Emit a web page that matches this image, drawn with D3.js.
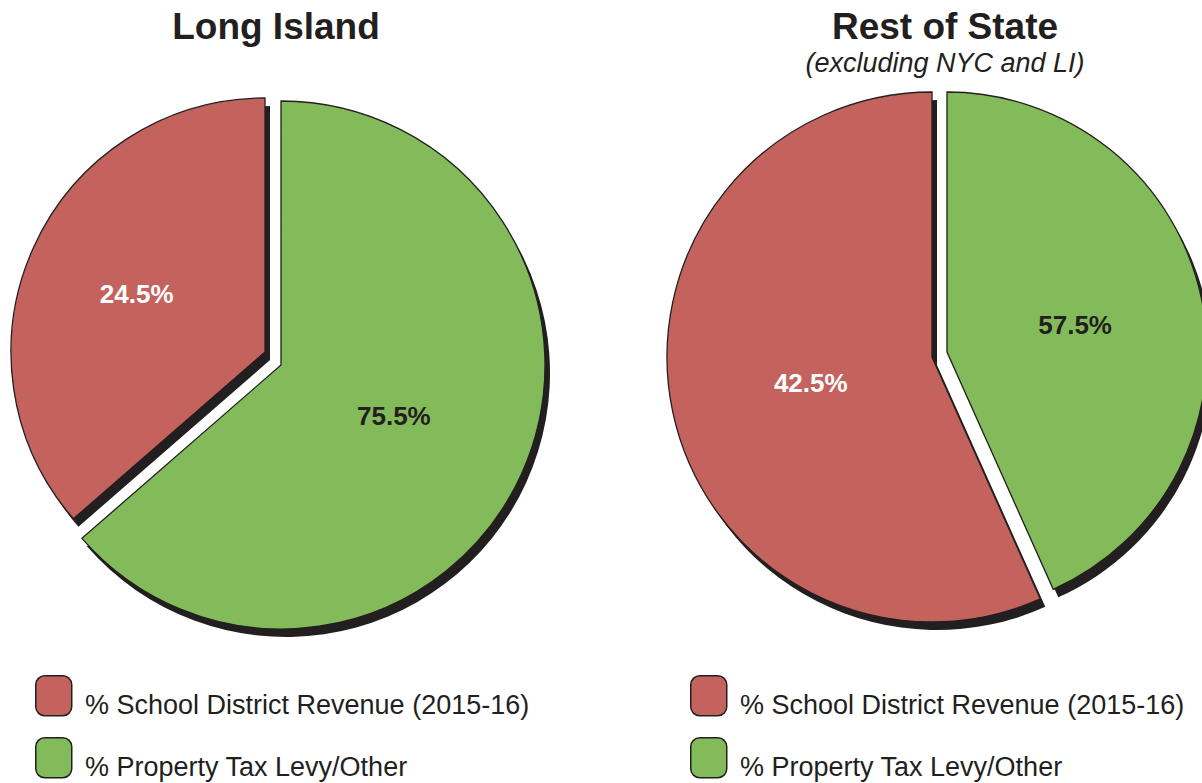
<!DOCTYPE html>
<html lang="en">
<head>
<meta charset="UTF-8">
<script src="https://d3js.org/d3.v7.min.js"></script>
<style>
  body { margin: 0; background: #fff; font-family: 'Liberation Sans', Arial, sans-serif; }
  .title { font-size: 37px; font-weight: bold; fill: #231f20; }
  .subtitle { font-size: 27px; font-style: italic; fill: #231f20; }
  .pct { font-size: 26px; font-weight: bold; }
  .legend text { font-size: 27px; fill: #231f20; }
</style>
</head>
<body>
<script>
// categories (legend order)
const categories = ["% School District Revenue (2015-16)", "% Property Tax Levy/Other"];
const colors = ["#c4635e", "#83bb5a"];
const labelColors = ["#ffffff", "#231f20"];

const regions = ["Long Island", "Rest of State"];
const subtitles = ["", "(excluding NYC and LI)"];

// printed percentages
const liLabels = [24.5, 75.5];
const rosLabels = [42.5, 57.5];
// share of the circle each slice takes as drawn
const liShares = [36.4, 63.6];
const rosShares = [56.7, 43.3];

// layout per pie: centre, radius, and how each slice is pulled out
const pies = [
  { title: regions[0], sub: subtitles[0], labels: liLabels, shares: liShares,
    cx: 281, cy: 365, r: 264, titleX: 276,
    explode: [{ dx: -16, dy: -13, r: 254, lr: 141 }, { dx: 0, dy: 0, r: 264, lr: 124 }],
    legendX: 35 },
  { title: regions[1], sub: subtitles[1], labels: rosLabels, shares: rosShares,
    cx: 932, cy: 357, r: 265, titleX: 945,
    explode: [{ dx: 0, dy: 0, r: 265, lr: 124 }, { dx: 15, dy: -5, r: 260, lr: 131 }],
    legendX: 690 }
];

const svg = d3.select("body").append("svg")
  .attr("width", 1202)
  .attr("height", 783);

// green slice starts at 12 o'clock, red follows
const pie = d3.pie().sort(null).value(d => d.share);

pies.forEach(p => {
  const rows = [1, 0].map(i => ({ i, share: p.shares[i], label: p.labels[i] }));
  const arcs = pie(rows);

  const g = svg.append("g").attr("transform", `translate(${p.cx},${p.cy})`);

  const arcFor = d => d3.arc().innerRadius(0).outerRadius(p.explode[d.data.i].r);
  const labelArc = d => d3.arc().innerRadius(p.explode[d.data.i].lr).outerRadius(p.explode[d.data.i].lr);

  // drop shadows
  g.selectAll(".shadow")
    .data(arcs)
    .enter().append("path")
    .attr("class", "shadow")
    .attr("fill", "#231f20")
    .attr("transform", d => `translate(${p.explode[d.data.i].dx + 5},${p.explode[d.data.i].dy + 8})`)
    .attr("d", d => arcFor(d)(d));

  g.selectAll(".slice")
    .data(arcs)
    .enter().append("path")
    .attr("class", "slice")
    .attr("fill", d => colors[d.data.i])
    .attr("stroke", "#231f20")
    .attr("stroke-width", 1.3)
    .attr("stroke-linejoin", "miter")
    .attr("transform", d => `translate(${p.explode[d.data.i].dx},${p.explode[d.data.i].dy})`)
    .attr("d", d => arcFor(d)(d));

  g.selectAll(".pct")
    .data(arcs)
    .enter().append("text")
    .attr("class", "pct")
    .attr("text-anchor", "middle")
    .attr("dy", "0.35em")
    .attr("fill", d => labelColors[d.data.i])
    .attr("transform", d => {
      const c = labelArc(d).centroid(d);
      const e = p.explode[d.data.i];
      return `translate(${c[0] + e.dx},${c[1] + e.dy})`;
    })
    .text(d => d3.format(".1f")(d.data.label) + "%");

  svg.append("text")
    .attr("class", "title")
    .attr("x", p.titleX)
    .attr("y", 39)
    .attr("text-anchor", "middle")
    .text(p.title);

  if (p.sub) {
    svg.append("text")
      .attr("class", "subtitle")
      .attr("x", p.titleX)
      .attr("y", 72)
      .attr("text-anchor", "middle")
      .text(p.sub);
  }

  const legend = svg.append("g").attr("class", "legend")
    .attr("transform", `translate(${p.legendX},675)`);

  const item = legend.selectAll("g")
    .data(categories)
    .enter().append("g")
    .attr("transform", (d, i) => `translate(0,${i * 62})`);

  item.append("rect")
    .attr("x", 0.75).attr("y", 0.75)
    .attr("width", 36).attr("height", 40)
    .attr("rx", 9)
    .attr("fill", (d, i) => colors[i])
    .attr("stroke", "#231f20")
    .attr("stroke-width", 1.5);

  item.append("text")
    .attr("x", 50)
    .attr("y", 39)
    .text(d => d);
});
</script>
</body>
</html>
